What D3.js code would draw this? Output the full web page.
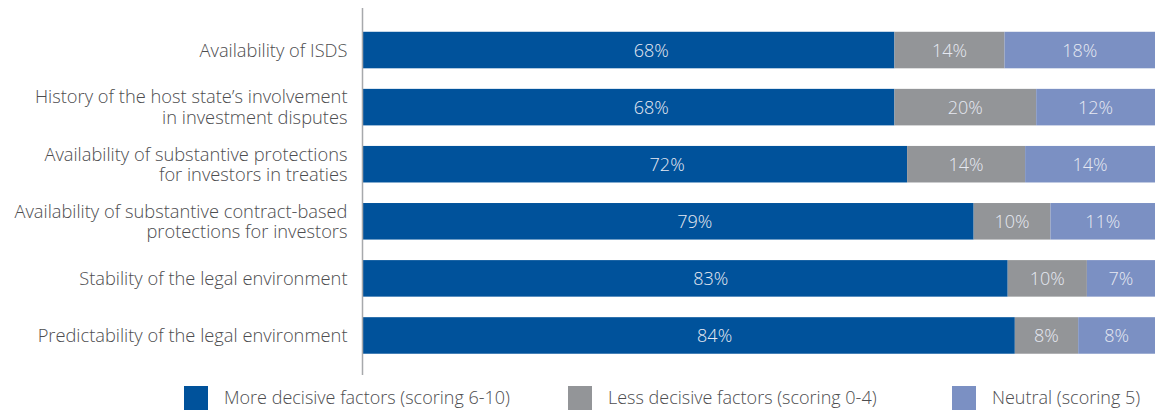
<!DOCTYPE html>
<html>
<head>
<meta charset="utf-8">
<script src="https://cdn.jsdelivr.net/npm/d3@7"></script>
<style>
  html, body { margin: 0; padding: 0; background: #ffffff; }
  svg { display: block; }
</style>
</head>
<body>
<svg id="chart" width="1157" height="413"></svg>
<script>
// Categories (top to bottom), each line of a wrapped label separated by "\n"
const categories = [
  "Availability of ISDS",
  "History of the host state\u2019s involvement\nin investment disputes",
  "Availability of substantive protections\nfor investors in treaties",
  "Availability of substantive contract-based\nprotections for investors",
  "Stability of the legal environment",
  "Predictability of the legal environment"
];
// Segment lengths as drawn in the picture (share of bar, %)
const moreValues    = [67.1, 67.1, 68.7, 77.1, 81.4, 82.3];
const lessValues    = [13.9, 17.9, 14.9,  9.7, 10.0,  8.0];
const neutralValues = [19.0, 15.0, 16.4, 13.2,  8.6,  9.7];
// Printed labels
const moreLabels    = [68, 68, 72, 79, 83, 84];
const lessLabels    = [14, 20, 14, 10, 10, 8];
const neutralLabels = [18, 12, 14, 11, 7, 8];
const seriesNames = ["More decisive factors (scoring 6-10)", "Less decisive factors (scoring 0-4)", "Neutral (scoring 5)"];
const seriesColors = ["#00529b", "#939598", "#7b90c3"];

const svg = d3.select("#chart");
const left = 363, right = 1155;
const FONT = "'Open Sans', sans-serif";

const x = d3.scaleLinear().domain([0, 100]).range([left, right]);
const y = d3.scaleBand().domain(categories).range([21.5, 364]).paddingInner(0.36).paddingOuter(0.18);

const rows = categories.map((c, i) => ({
  cat: c,
  segs: [
    { v: moreValues[i], label: moreLabels[i], s: 0 },
    { v: lessValues[i], label: lessLabels[i], s: 1 },
    { v: neutralValues[i], label: neutralLabels[i], s: 2 }
  ]
}));
rows.forEach(r => { let acc = 0; r.segs.forEach(sg => { sg.x0 = acc; acc += sg.v; sg.x1 = acc; }); });

const g = svg.append("g");
const rowG = g.selectAll("g.row").data(rows).join("g").attr("class", "row");

rowG.selectAll("rect").data(d => d.segs.map(s => ({...s, cat: d.cat})))
  .join("rect")
  .attr("x", d => x(d.x0))
  .attr("width", d => x(d.x1) - x(d.x0))
  .attr("y", d => y(d.cat))
  .attr("height", y.bandwidth())
  .attr("fill", d => seriesColors[d.s]);

rowG.selectAll("text.val").data(d => d.segs.map(s => ({...s, cat: d.cat})))
  .join("text")
  .attr("class", "val")
  .attr("x", d => d.s === 0 ? x(d.label / 2) + 19 : (x(d.x0) + x(d.x1)) / 2)
  .attr("y", d => y(d.cat) + y.bandwidth() / 2)
  .attr("dy", "0.36em")
  .attr("text-anchor", "middle")
  .attr("fill", "#e6e9f2")
  .attr("font-family", FONT)
  .attr("font-weight", 300)
  .attr("font-size", 18)
  .text(d => d.label + "%");

// Category axis
const yAxis = d3.axisLeft(y).tickSize(0).tickPadding(15).tickFormat("");
const axG = svg.append("g").attr("transform", `translate(${left - 0.5},0)`).call(yAxis);
axG.select(".domain").remove();
axG.append("line").attr("x1", 0).attr("x2", 0).attr("y1", 8).attr("y2", 375)
  .attr("stroke", "#a7a9ac").attr("stroke-width", 1.5);

axG.selectAll(".tick").each(function(d) {
  const lines = d.split("\n");
  const t = d3.select(this).append("text")
    .attr("x", -15)
    .attr("text-anchor", "end")
    .attr("fill", "#4d4d4f")
    .attr("font-family", FONT)
    .attr("font-weight", 300)
    .attr("font-size", 18.3);
  const lh = 20.5;
  lines.forEach((ln, k) => {
    t.append("tspan").attr("x", -15)
      .attr("y", (k - (lines.length - 1) / 2) * lh)
      .attr("dy", "0.36em")
      .text(ln);
  });
});

// Legend
const legendX = [184, 568, 952];
const lg = svg.append("g").selectAll("g").data(seriesNames).join("g")
  .attr("transform", (d, i) => `translate(${legendX[i]},386)`);
lg.append("rect").attr("width", 24).attr("height", 24).attr("fill", (d, i) => seriesColors[i]);
lg.append("text").attr("x", 40).attr("y", 12).attr("dy", "0.36em")
  .attr("fill", "#4d4d4f")
  .attr("font-family", FONT)
  .attr("font-weight", 300)
  .attr("font-size", 18)
  .text(d => d);
</script>
</body>
</html>
